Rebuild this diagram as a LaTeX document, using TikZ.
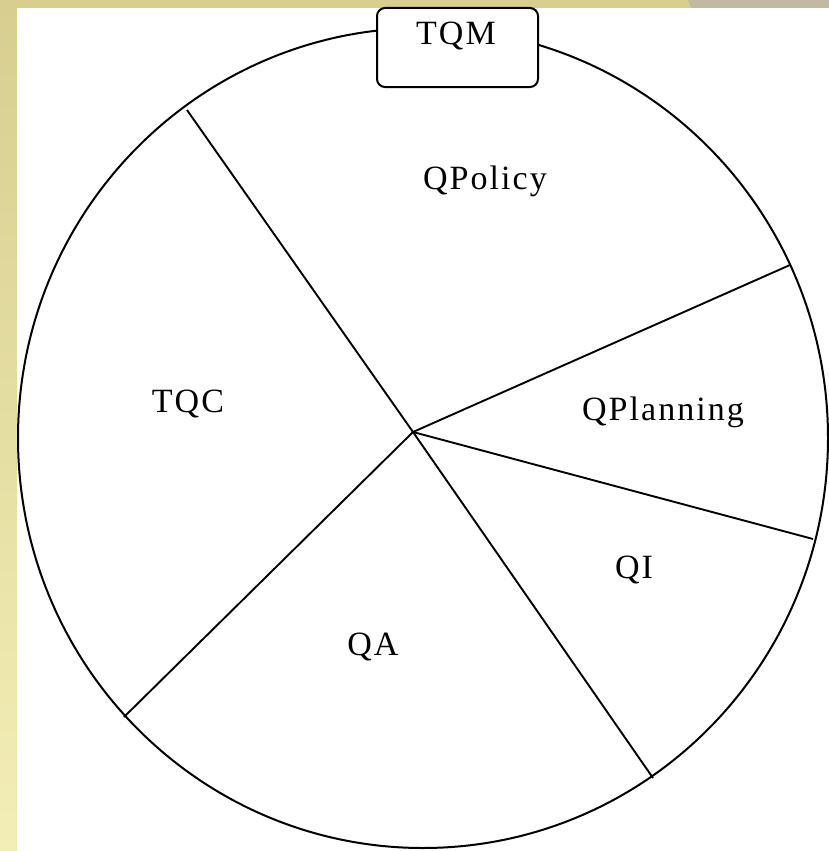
\documentclass[tikz,border=0pt]{standalone}
\usepackage{fontspec}
\newfontfamily\labfont[LetterSpace=6]{Liberation Serif}
\definecolor{stripleft}{HTML}{F3EEB6}
\definecolor{striptop}{HTML}{D7CE90}
\definecolor{stripgray}{HTML}{C1BAA2}
\tikzset{
  lab/.style={font=\labfont\fontsize{34}{40}\selectfont, anchor=base, inner sep=0pt},
  rim/.style={draw=black, line width=2pt},
  spoke/.style={draw=black, line width=1.9pt},
  tqmbox/.style={draw=black, line width=2pt, fill=white, rounded corners=8pt}
}
\begin{document}
\begin{tikzpicture}[x=1pt,y=-1pt]
  % background and margins
  \useasboundingbox (0,0) rectangle (829,851);
  \fill[top color=striptop, bottom color=stripleft] (0,0) rectangle (829,851);
  \fill[stripgray] (688,0) -- (829,0) -- (829,8) -- (691,8) -- cycle;
  \fill[white] (17,8) rectangle (829,851);

  % circle
  \coordinate (c) at (423,438);
  \draw[rim] (c) ellipse [x radius=405, y radius=410];

  % hub and rim points
  \coordinate (hub) at (413,432);
  \coordinate (p1) at (187,110);
  \coordinate (p2) at (790,265);
  \coordinate (p3) at (813,539);
  \coordinate (p4) at (653,778);
  \coordinate (p5) at (124,717);
  \draw[spoke] (p1) -- (hub) -- (p4);
  \draw[spoke] (hub) -- (p2);
  \draw[spoke] (hub) -- (p3);
  \draw[spoke] (hub) -- (p5);

  % TQM box
  \draw[tqmbox] (377,8) rectangle (538,87);
  \node[lab] (tqm) at (456,45) {TQM};

  % sector labels
  \node[lab] (qpolicy) at (485,189) {QPolicy};
  \node[lab] (qplanning) at (663,420) {QPlanning};
  \node[lab] (tqc) at (188,412) {TQC};
  \node[lab] (qa) at (373,655) {QA};
  \node[lab] (qi) at (634,578) {QI};
\end{tikzpicture}
\end{document}
